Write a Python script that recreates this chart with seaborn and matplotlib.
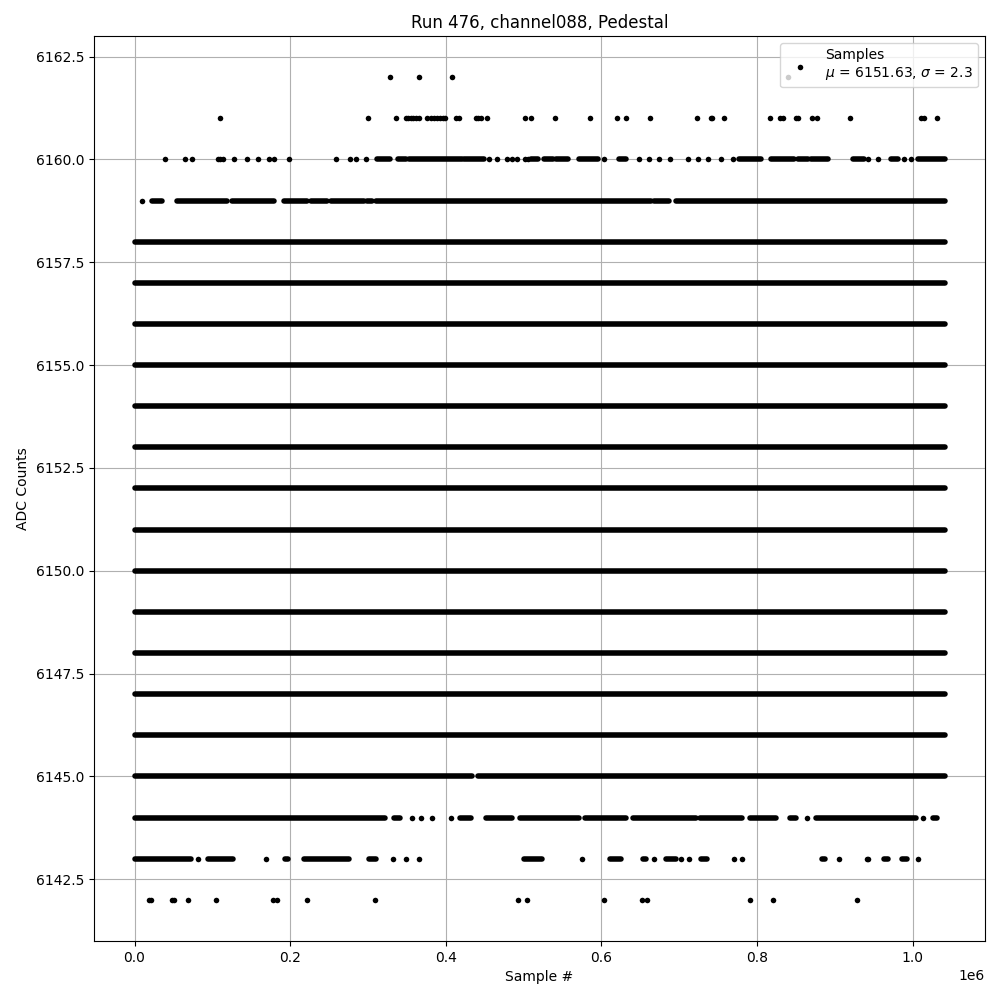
"""
Pedestal scan: ADC counts per sample for one channel.
"""
import numpy as np
import pandas as pd
import matplotlib
matplotlib.use("Agg")
import matplotlib.pyplot as plt
import seaborn as sns

# valores (samples, ADC)
n_samples = 1041000
mu, sigma = 6151.63, 2.3

# niveis densos: amostras continuas do inicio ao fim
full_levels = [6146, 6147, 6148, 6149, 6150, 6151, 6152, 6153, 6154,
               6155, 6156, 6157, 6158]

# trechos densos (inicio, fim) nos niveis parciais
runs_6145 = [(0, 434000), (441200, 1041000)]
runs_6144 = [(0, 321300), (332900, 340600), (417700, 433100), (451100, 484600),
             (494800, 570700), (578400, 631100), (640100, 721100),
             (726200, 780200), (790500, 823900), (841900, 849600),
             (875300, 1003800), (1025700, 1030800)]
runs_6143 = [(0, 72000), (95100, 126000), (192800, 197900), (217200, 275100),
             (300800, 311000), (500000, 523100), (610500, 624700),
             (652900, 656800), (682500, 695300), (727500, 735200),
             (883000, 886800), (962700, 967800), (985800, 992200)]
runs_6159 = [(22700, 35600), (54900, 119100), (125600, 179000),
             (191900, 222000), (226200, 247700), (251900, 294700),
             (299100, 305500), (309800, 663200), (667100, 686300),
             (695400, 1041000)]
runs_6160 = [(311900, 329000), (338400, 348300), (352600, 421200),
             (423300, 449000), (509000, 518000), (525700, 537300),
             (541100, 556500), (570700, 595100), (622100, 631100),
             (776300, 804600), (817500, 847000), (852200, 865000),
             (868900, 890700), (922900, 937000), (971700, 980700),
             (1006400, 1041000)]

# amostras isoladas
pts_6142 = [18000, 21800, 47900, 50500, 68500, 105000, 178300, 182900, 221100,
            308900, 492700, 503800, 603200, 652500, 658100, 790800, 820400,
            928900]
pts_6143 = [81900, 168800, 332500, 349200, 365400, 574500, 667500, 702700,
            712400, 770300, 780200, 905200, 940800, 942100, 1006800]
pts_6144 = [356900, 367600, 381700, 406200, 863700, 1012800]
pts_6159 = [9900]
pts_6160 = [38900, 64700, 74200, 107600, 110500, 113500, 127600, 144900,
            158500, 172600, 179000, 198300, 259600, 276700, 285300, 296900,
            455400, 466200, 479000, 485500, 491900, 501300, 505500, 602800,
            647800, 660600, 673500, 687600, 710800, 723600, 736500, 753200,
            768600, 942100, 955000, 988400, 997400]
pts_6161 = [109600, 299900, 335900, 348300, 351300, 354800, 358200, 362100,
            365900, 375300, 380500, 384700, 389100, 392400, 395900, 398500,
            413500, 416800, 438300, 441300, 444700, 453300, 501300, 509000,
            539800, 585200, 620400, 631100, 662300, 722400, 740400, 742500,
            757500, 816600, 829400, 833300, 849600, 853100, 870200, 876600,
            919400, 1010300, 1014500, 1030800]
pts_6162 = [327800, 365000, 407500, 839300]

runs = {6145: runs_6145, 6144: runs_6144, 6143: runs_6143,
        6159: runs_6159, 6160: runs_6160}
for lvl in full_levels:
    runs[lvl] = [(0, n_samples)]

points = {6142: pts_6142, 6143: pts_6143, 6144: pts_6144, 6159: pts_6159,
          6160: pts_6160, 6161: pts_6161, 6162: pts_6162}

seg_df = pd.DataFrame([(lvl, a, b) for lvl, rr in runs.items() for a, b in rr],
                      columns=["adc", "start", "end"])
pt_df = pd.DataFrame([(x, lvl) for lvl, xs in points.items() for x in xs],
                     columns=["sample", "adc"])

fig, ax = plt.subplots(figsize=(10, 10), dpi=100)
ax.grid(True)

ax.hlines(seg_df["adc"], seg_df["start"], seg_df["end"], colors="black",
          linewidth=4, capstyle="round", zorder=2.5)
sns.scatterplot(data=pt_df, x="sample", y="adc", color="black", s=16,
                linewidth=0, ax=ax, zorder=2.5,
                label=f"Samples\n$\\mu$ = {mu}, $\\sigma$ = {sigma}")

ax.set_title("Run 476, channel088, Pedestal")
ax.set_xlabel("Sample #")
ax.set_ylabel("ADC Counts")
ax.legend(loc="upper right")

fig.subplots_adjust(left=0.094, right=0.985, top=0.964, bottom=0.059)
fig.savefig("out.png")
